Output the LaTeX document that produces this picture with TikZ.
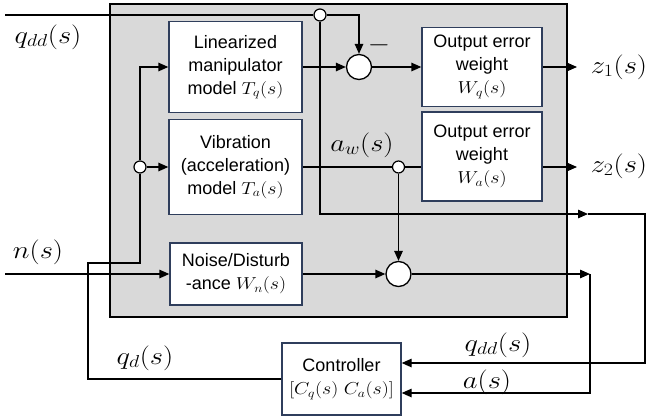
\documentclass[tikz,border=0pt]{standalone}
\usepackage{fontspec}
\setmainfont{Liberation Sans}
\usepackage{graphicx}
\usetikzlibrary{arrows.meta}

\definecolor{boxblue}{RGB}{47,62,92}
\definecolor{plantgray}{RGB}{217,217,217}
\newcommand\mth[1]{\scalebox{1.15}[1]{$#1$}}

\tikzset{
  blk/.style={draw=boxblue,line width=1.3pt,fill=white,align=center,inner sep=0pt,
    font=\fontsize{18}{23}\selectfont},
  sumnode/.style={circle,draw,line width=1.3pt,fill=white,minimum size=25pt,inner sep=0pt},
  tap/.style={circle,draw,line width=1.2pt,fill=white,minimum size=12pt,inner sep=0pt},
  sig/.style={font=\fontsize{23}{27}\selectfont},
  wire/.style={line width=1.3pt},
  arr/.style={wire,-{Triangle[length=10pt,width=8.5pt]}},
}

\begin{document}
\begin{tikzpicture}[x=1pt,y=-1pt]
\useasboundingbox (0,0) rectangle (656,418);

% plant
\fill[plantgray] (110,4) rectangle (567,317);
\draw[line width=1.5pt] (110,4) rectangle (567,317);

% blocks
\node[blk,minimum width=133pt,minimum height=91pt] (lin) at (235.5,67) {Linearized\\manipulator\\model \mth{T_q(s)}};
\node[blk,minimum width=133pt,minimum height=95pt] (vib) at (235.5,167) {Vibration\\(acceleration)\\model \mth{T_a(s)}};
\node[blk,minimum width=132pt,minimum height=62pt] (noise) at (236,274) {Noise/Disturb\\-ance \mth{W_n(s)}};
\node[blk,minimum width=120pt,minimum height=79pt] (wq) at (482,67) {Output error\\weight\\\mth{W_q(s)}};
\node[blk,minimum width=120pt,minimum height=89pt] (wa) at (482,156.5) {Output error\\weight\\\mth{W_a(s)}};
\node[blk,minimum width=119pt,minimum height=72pt] (ctrl) at (341.5,379) {Controller\\\mth{[C_q(s)\;C_a(s)]}};

% sums and taps
\node[sumnode] (sum1) at (359,67) {};
\node[sumnode] (sum2) at (398.5,274) {};
\node[tap] (j1) at (320,15) {};
\node[tap] (j2) at (140,167) {};
\node[tap] (j3) at (398.5,167) {};

% signal labels
\node[sig] (qddlab) at (48,37) {\mth{q_{dd}(s)}};
\node[sig] (nlab) at (38,252) {\mth{n(s)}};
\node[sig] (z1lab) at (619,67) {\mth{z_1(s)}};
\node[sig] (z2lab) at (619,166) {\mth{z_2(s)}};
\node[sig] (awlab) at (362,145) {\mth{a_w(s)}};
\node[sig] (minus) at (379,45) {\mth{-}};
\node[sig] (qddfb) at (498,345) {\mth{q_{dd}(s)}};
\node[sig] (afb) at (487,382) {\mth{a(s)}};
\node[sig] (qdlab) at (145,358) {\mth{q_d(s)}};

% free ends and corners
\coordinate (qddin) at (5,15);
\coordinate (nin) at (5,274);
\coordinate (z1end) at (577,67);
\coordinate (z2end) at (577,167);
\coordinate (qddmid) at (588,214);
\coordinate (qddcorner) at (645,214);
\coordinate (amid) at (590,274);
\coordinate (qdl) at (88,263);

% connectors
\draw[wire] (qddin) -- (j1);
\draw[arr] (j1) -| (sum1);
\draw[arr] (j1) |- (qddmid);
\draw[arr] (qddmid) -- (qddcorner) |- ([yshift=16pt]ctrl.east);
\draw[wire] (ctrl) -| (qdl) -| (j2);
\draw[arr] (j2) |- (lin);
\draw[arr] (j2) -- (vib);
\draw[arr] (lin) -- (sum1);
\draw[arr] (sum1) -- (wq);
\draw[arr] (wq) -- (z1end);
\draw[wire] (vib) -- (j3);
\draw[wire] (j3) -- (wa.west |- j3);
\draw[arr] (wa.east |- j3) -- (z2end);
\draw[arr] (j3) -- (sum2);
\draw[arr] (nin) -- (noise);
\draw[arr] (noise) -- (sum2);
\draw[arr] (sum2) -- (amid);
\draw[arr] (amid) |- ([yshift=-14pt]ctrl.east);
\end{tikzpicture}
\end{document}
